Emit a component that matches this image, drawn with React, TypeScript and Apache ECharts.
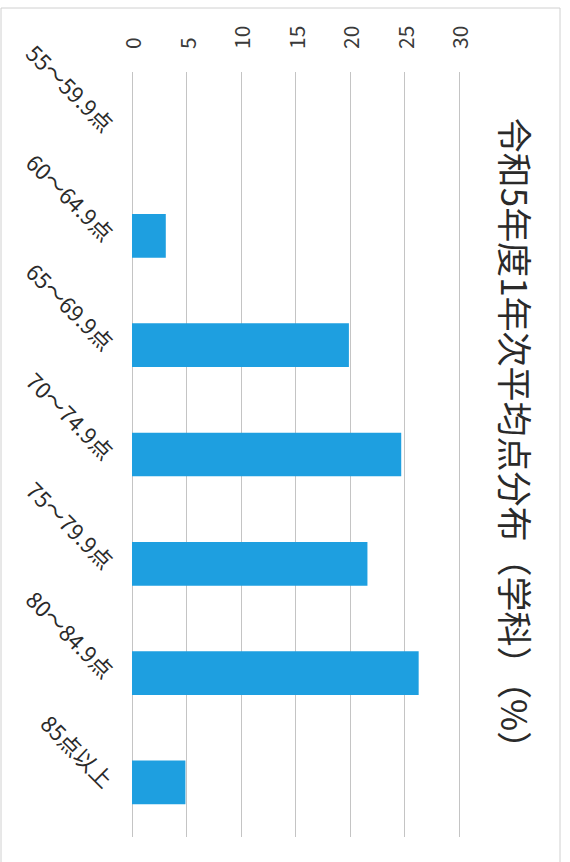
import React, { useEffect, useRef } from "react";
import * as echarts from "echarts";

const categories = [
  "55～59.9点",
  "60～64.9点",
  "65～69.9点",
  "70～74.9点",
  "75～79.9点",
  "80～84.9点",
  "85点以上",
];
const values = [0, 3.1, 19.9, 24.7, 21.6, 26.3, 4.9];
const valueMin = 0;
const valueMax = 30;
const valueInterval = 5;
const titleText = "令和5年度1年次平均点分布（学科）（%）";

const FONT = '"Noto Sans CJK JP", "Noto Sans", sans-serif';

export default function App() {
  const ref = useRef<HTMLDivElement>(null);
  useEffect(() => {
    if (!ref.current) return;
    const chart = echarts.init(ref.current, null, { renderer: "svg" });
    chart.setOption({
      animation: false,
      backgroundColor: "#ffffff",
      grid: { left: 132, right: 111, top: 72, bottom: 25, containLabel: false },
      xAxis: {
        type: "value",
        position: "top",
        min: valueMin,
        max: valueMax,
        interval: valueInterval,
        axisLine: { show: false },
        axisTick: { show: false },
        splitLine: { show: true, lineStyle: { color: "#c4c4c4", width: 1 } },
        axisLabel: {
          rotate: -90,
          margin: 23,
          fontSize: 21,
          color: "#3a3a3a",
          fontFamily: FONT,
        },
      },
      yAxis: {
        type: "category",
        inverse: true,
        data: categories,
        axisLine: { show: false },
        axisTick: { show: false },
        axisLabel: {
          rotate: -45,
          margin: 22,
          fontSize: 22,
          color: "#2a2a2a",
          fontFamily: FONT,
        },
      },
      series: [
        {
          type: "bar",
          data: values,
          barCategoryGap: "60%",
          itemStyle: { color: "#1e9fe0" },
        },
      ],
      graphic: [
        {
          type: "rect",
          shape: { x: 1, y: 8, width: 559, height: 880 },
          style: { fill: "none", stroke: "#d0d0d0", lineWidth: 1 },
          silent: true,
        },
        {
          type: "text",
          x: 516,
          y: 442,
          rotation: -Math.PI / 2,
          style: {
            text: titleText,
            fontSize: 35,
            fontFamily: FONT,
            fill: "#2a2a2a",
            align: "center",
            verticalAlign: "middle",
          },
        },
      ],
    });
    return () => chart.dispose();
  }, []);
  return (
    <div
      ref={ref}
      style={{ position: "fixed", left: 0, top: 0, width: 570, height: 862 }}
    />
  );
}
